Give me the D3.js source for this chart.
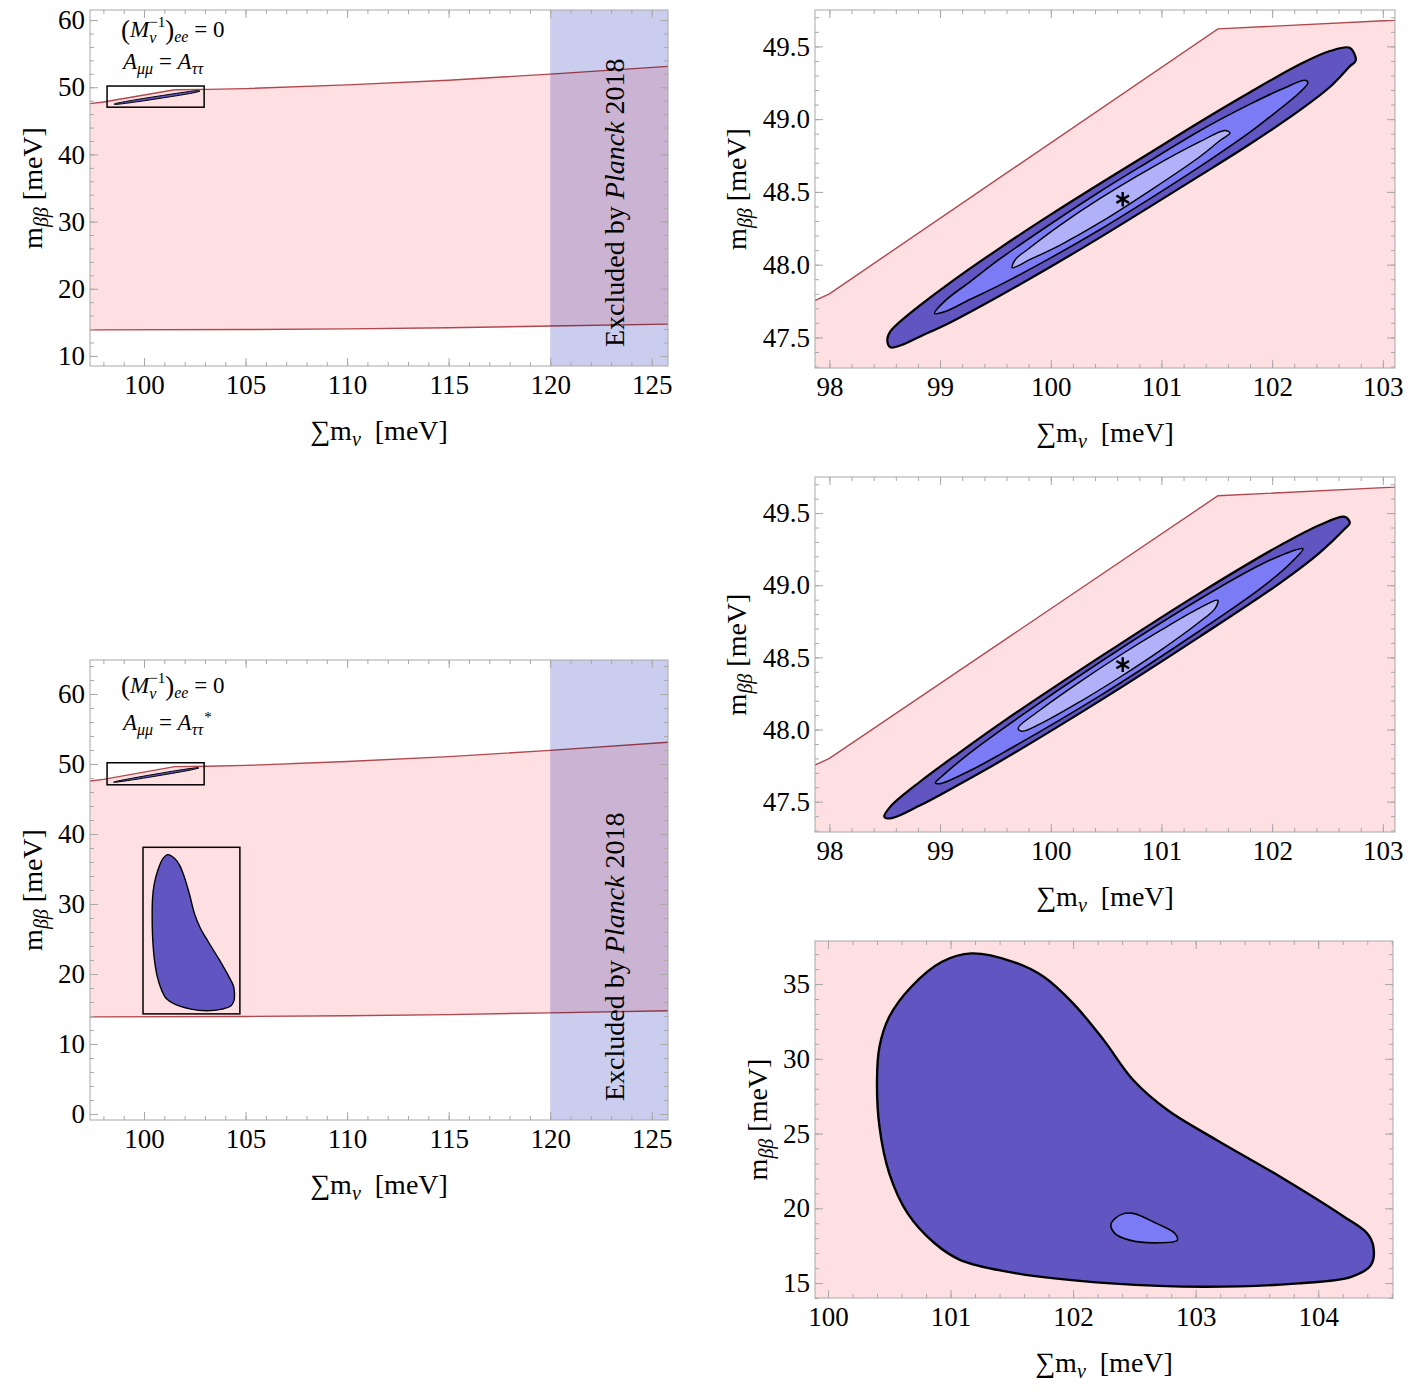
<!DOCTYPE html>
<html>
<head>
<meta charset="utf-8">
<script src="https://cdn.jsdelivr.net/npm/d3@7"></script>
<style>
  body { margin: 0; background: #fff; }
</style>
</head>
<body>
<svg id="chart"></svg>
<script>
const FONT = "'Liberation Serif', 'DejaVu Serif', serif";

// ------------------------------------
// Allowed band in (sum m_nu, m_bb), meV
// ------------------------------------
const bandUpper = [[97.3, 47.55], [98, 47.8], [101.51, 49.62], [103.1, 49.68], [105, 49.8],
  [110, 50.35], [115, 51.05], [120, 51.95], [126, 53.15]];
const bandLower = [[97.3, 13.88], [105, 13.93], [110, 14.03], [115, 14.2], [120, 14.45], [126, 14.75]];
const planckLimit = 120;

// ------------------------------------
// Contours, A_mumu = A_tautau (zoom)
// ------------------------------------
const realOuter = [[98.523, 47.486], [98.551, 47.541], [98.641, 47.61], [98.821, 47.722], [99.092, 47.877],
  [99.543, 48.116], [99.995, 48.342], [100.446, 48.558], [100.897, 48.769], [101.343, 48.979],
  [101.8, 49.185], [102.251, 49.377], [102.522, 49.468], [102.702, 49.49], [102.756, 49.404],
  [102.702, 49.363], [102.522, 49.221], [102.251, 49.062], [101.8, 48.829], [101.343, 48.61],
  [100.897, 48.399], [100.446, 48.188], [99.995, 47.984], [99.543, 47.788], [99.092, 47.603],
  [98.821, 47.507], [98.641, 47.445], [98.551, 47.432]];
const realMid = [[98.95, 47.665], [99.047, 47.753], [99.273, 47.884], [99.543, 48.041], [99.995, 48.278],
  [100.446, 48.503], [100.897, 48.714], [101.343, 48.919], [101.8, 49.103], [102.116, 49.216],
  [102.296, 49.267], [102.323, 49.25], [102.251, 49.185], [101.98, 49.016], [101.8, 48.911],
  [101.343, 48.672], [100.897, 48.454], [100.446, 48.242], [99.995, 48.045], [99.543, 47.861],
  [99.273, 47.762], [99.047, 47.678]];
const realInner = [[99.652, 47.979], [99.679, 48.034], [99.814, 48.118], [100.085, 48.272], [100.446, 48.455],
  [100.897, 48.66], [101.343, 48.843], [101.574, 48.922], [101.619, 48.905], [101.529, 48.853],
  [101.343, 48.74], [100.897, 48.509], [100.446, 48.29], [100.085, 48.135], [99.814, 48.036]];

// ------------------------------------
// Contours, A_mumu = A_tautau* (zoom)
// ------------------------------------
const conjOuter = [[98.496, 47.397], [98.551, 47.466], [98.821, 47.64], [99.182, 47.844], [99.543, 48.041],
  [100.446, 48.503], [101.343, 48.944], [102.071, 49.276], [102.431, 49.418], [102.657, 49.474],
  [102.702, 49.431], [102.657, 49.391], [102.431, 49.226], [102.071, 49.015], [101.343, 48.642],
  [100.446, 48.2], [99.543, 47.78], [99.182, 47.624], [98.821, 47.475], [98.551, 47.384]];
const conjMid = [[98.957, 47.631], [99.002, 47.666], [99.273, 47.84], [99.543, 47.993], [100.446, 48.468],
  [101.343, 48.903], [101.89, 49.14], [102.161, 49.231], [102.278, 49.253], [102.161, 49.149],
  [101.89, 48.975], [101.343, 48.683], [100.446, 48.235], [99.543, 47.828], [99.273, 47.716], [99.002, 47.625]];
const conjInner = [[99.706, 48.009], [99.904, 48.135], [100.266, 48.332], [100.627, 48.515], [100.988, 48.685],
  [101.343, 48.841], [101.508, 48.895], [101.484, 48.838], [101.343, 48.745], [100.988, 48.547],
  [100.627, 48.364], [100.266, 48.194], [99.904, 48.039], [99.742, 47.988]];

// ------------------------------------
// Contours, second solution (zoom)
// ------------------------------------
const wideOuter = [[101.17, 37.05], [101.51, 36.49], [101.76, 35.49], [102.0, 33.71], [102.25, 31.25],
  [102.49, 28.58], [102.77, 26.57], [103.17, 24.57], [103.69, 22.11], [104.21, 19.44], [104.4, 18.32],
  [104.45, 17.43], [104.43, 16.2], [104.27, 15.42], [103.84, 14.98], [103.08, 14.75], [102.31, 14.98],
  [101.54, 15.65], [101.08, 16.54], [100.87, 17.66], [100.65, 19.66], [100.5, 22.34], [100.42, 25.46],
  [100.4, 28.58], [100.42, 30.81], [100.5, 32.81], [100.68, 34.82], [100.93, 36.49]];
const wideInner = [[102.31, 18.99], [102.4, 19.61], [102.49, 19.66], [102.68, 18.99], [102.83, 18.32],
  [102.85, 17.87], [102.68, 17.69], [102.46, 17.87], [102.34, 18.32]];

const bestFit = [[100.65, 48.45]];

// inset boxes drawn in the overview panels
const boxZoom = [[98.18, 47.03], [102.96, 50.18]];
const boxWide = [[99.95, 14.3], [104.72, 38.1]];

// ------------------------------------
// Tick values
// ------------------------------------
const overX = [100, 105, 110, 115, 120, 125];
const overXMinor = d3.range(98, 126, 1);
const overY1 = [10, 20, 30, 40, 50, 60];
const overY1Minor = d3.range(10, 62, 2);
const overY2 = [0, 10, 20, 30, 40, 50, 60];
const overY2Minor = d3.range(0, 65, 2);
const zoomX = [98, 99, 100, 101, 102, 103];
const zoomXMinor = d3.range(490, 516, 1).map(d => d / 5);
const zoomY = [47.5, 48.0, 48.5, 49.0, 49.5];
const zoomYMinor = d3.range(473, 498, 1).map(d => d / 10);
const wideX = [100, 101, 102, 103, 104];
const wideXMinor = d3.range(500, 524, 1).map(d => d / 5);
const wideY = [15, 20, 25, 30, 35];
const wideYMinor = d3.range(14, 38, 1);

const colDark = "#6055c1", colMid = "#7b7bf6", colLight = "#b1b1fa";
const pink = "#ffe0e2", pinkLine = "#b3474f", planckBlue = "#cbcdee";

const svg = d3.select("#chart")
  .attr("width", 1411)
  .attr("height", 1394)
  .attr("font-family", FONT);

let clipId = 0;

function panel(cfg) {
  const g = svg.append("g").attr("transform", `translate(${cfg.left},${cfg.top})`);
  const x = d3.scaleLinear().domain(cfg.xDomain).range([0, cfg.w]);
  const y = d3.scaleLinear().domain(cfg.yDomain).range([cfg.h, 0]);

  const id = "clip" + (clipId++);
  g.append("clipPath").attr("id", id)
    .append("rect").attr("width", cfg.w).attr("height", cfg.h);
  const body = g.append("g").attr("clip-path", `url(#${id})`);

  const line = d3.line().x(d => x(d[0])).y(d => y(d[1]));
  const smooth = d3.line().x(d => x(d[0])).y(d => y(d[1])).curve(d3.curveCatmullRomClosed.alpha(0.5));

  // pink allowed band
  body.append("path")
    .datum(bandUpper.concat(bandLower.slice().reverse()))
    .attr("fill", pink)
    .attr("d", d => line(d) + "Z");
  [bandUpper, bandLower].forEach(b => body.append("path")
    .datum(b).attr("fill", "none").attr("stroke", pinkLine).attr("stroke-width", 1.4).attr("d", line));

  // Planck exclusion
  if (cfg.planck) {
    body.append("rect")
      .attr("x", x(planckLimit)).attr("y", 0)
      .attr("width", cfg.w - x(planckLimit)).attr("height", cfg.h)
      .attr("fill", planckBlue)
      .style("mix-blend-mode", "multiply");
  }

  // contours
  (cfg.contours || []).forEach(c => body.append("path")
    .datum(c.data)
    .attr("fill", c.fill).attr("stroke", "#000").attr("stroke-width", c.sw)
    .attr("d", smooth));

  // inset boxes
  (cfg.boxes || []).forEach(b => body.append("rect")
    .attr("x", x(b[0][0])).attr("y", y(b[1][1]))
    .attr("width", x(b[1][0]) - x(b[0][0])).attr("height", y(b[0][1]) - y(b[1][1]))
    .attr("fill", "none").attr("stroke", "#000").attr("stroke-width", 1.5));

  if (cfg.star) {
    body.selectAll(".star").data(bestFit).join("path")
      .attr("transform", d => `translate(${x(d[0])},${y(d[1])})`)
      .attr("d", d3.symbol(d3.symbolAsterisk, 150))
      .attr("stroke", "#000").attr("stroke-width", 2.4);
  }

  // frame
  g.append("rect").attr("width", cfg.w).attr("height", cfg.h)
    .attr("fill", "none").attr("stroke", "#a8a8a8").attr("stroke-width", 1);

  const addAxis = (gen, tr, vals, size, fmt, pad) => {
    const a = g.append("g").attr("transform", tr)
      .call(gen.tickValues(vals).tickSize(-size).tickPadding(pad || 0).tickFormat(fmt || ""));
    a.select(".domain").remove();
    a.selectAll("line").attr("stroke", "#a8a8a8");
    a.attr("font-family", FONT).attr("font-size", 27);
    a.selectAll("text").attr("fill", "#000");
  };
  addAxis(d3.axisBottom(x), `translate(0,${cfg.h})`, cfg.xMinor, 4);
  addAxis(d3.axisBottom(x), `translate(0,${cfg.h})`, cfg.xMajor, 8, cfg.xFmt, 9);
  addAxis(d3.axisTop(x), "translate(0,0)", cfg.xMinor, 4);
  addAxis(d3.axisTop(x), "translate(0,0)", cfg.xMajor, 8);
  addAxis(d3.axisLeft(y), "translate(0,0)", cfg.yMinor, 4);
  addAxis(d3.axisLeft(y), "translate(0,0)", cfg.yMajor, 8, cfg.yFmt, 5);
  addAxis(d3.axisRight(y), `translate(${cfg.w},0)`, cfg.yMinor, 4);
  addAxis(d3.axisRight(y), `translate(${cfg.w},0)`, cfg.yMajor, 8);

  // axis titles
  const xt = g.append("text").attr("x", cfg.w / 2).attr("y", cfg.h + 74)
    .attr("text-anchor", "middle").attr("font-size", 28);
  xt.append("tspan").text("∑m");
  xt.append("tspan").attr("font-size", 20).attr("font-style", "italic").attr("dy", 6).text("ν");
  xt.append("tspan").attr("dy", -6).text("\u00a0\u00a0[meV]");

  const yt = g.append("text").attr("transform", "rotate(-90)")
    .attr("x", -cfg.h / 2).attr("y", cfg.yTitle)
    .attr("text-anchor", "middle").attr("font-size", 28);
  yt.append("tspan").text("m");
  yt.append("tspan").attr("font-size", 20).attr("font-style", "italic").attr("dy", 6).text("ββ");
  yt.append("tspan").attr("dy", -6).text("\u00a0[meV]");

  return { g, x, y };
}

function annotate(g, y1, y2, conj) {
  const x0 = 31;
  const t1 = g.append("text").attr("x", x0).attr("y", y1).attr("font-size", 23);
  t1.append("tspan").attr("font-size", 27).attr("dy", 2).text("(");
  t1.append("tspan").attr("font-style", "italic").attr("dy", -2).text("M");
  t1.append("tspan").attr("font-size", 16).attr("font-style", "italic").attr("dy", 6).text("ν");
  t1.append("tspan").attr("font-size", 15).attr("dx", -7).attr("dy", -16).text("−1");
  t1.append("tspan").attr("font-size", 27).attr("dy", 12).text(")");
  t1.append("tspan").attr("font-size", 16).attr("font-style", "italic").attr("dy", 3).text("ee");
  t1.append("tspan").attr("dy", -5).text(" = 0");

  const t2 = g.append("text").attr("x", x0 + 2).attr("y", y2).attr("font-size", 23);
  t2.append("tspan").attr("font-style", "italic").text("A");
  t2.append("tspan").attr("font-size", 16).attr("font-style", "italic").attr("dy", 5).text("μμ");
  t2.append("tspan").attr("dy", -5).text(" = ");
  t2.append("tspan").attr("font-style", "italic").text("A");
  t2.append("tspan").attr("font-size", 16).attr("font-style", "italic").attr("dy", 5).text("ττ");
  if (conj) t2.append("tspan").attr("font-size", 15).attr("dx", 1).attr("dy", -13).text("*");
}

function planckLabel(p, cfg) {
  const t = p.g.append("text")
    .attr("transform", `translate(${p.x(planckLimit) + 74},${cfg.h - 19}) rotate(-90)`)
    .attr("text-anchor", "start").attr("font-size", 28);
  t.append("tspan").text("Excluded by ");
  t.append("tspan").attr("font-style", "italic").text("Planck");
  t.append("tspan").text(" 2018");
}

// ------------------------------------
// Panels
// ------------------------------------
const cfgA = {
  left: 90, top: 10, w: 578, h: 356,
  xDomain: [97.34, 125.8], yDomain: [8.5, 61.5],
  xMajor: overX, xMinor: overXMinor, yMajor: overY1, yMinor: overY1Minor,
  xFmt: d3.format("d"), yFmt: d3.format("d"), yTitle: -48,
  planck: true,
  contours: [{ data: realOuter, fill: colDark, sw: 1 }],
  boxes: [boxZoom]
};
const pA = panel(cfgA);
annotate(pA.g, 27, 59, false);
planckLabel(pA, cfgA);

const zoomBase = {
  xDomain: [97.87, 103.11], yDomain: [47.29, 49.75],
  xMajor: zoomX, xMinor: zoomXMinor, yMajor: zoomY, yMinor: zoomYMinor,
  xFmt: d3.format("d"), yFmt: d3.format(".1f"), yTitle: -69, star: true
};
panel(Object.assign({}, zoomBase, {
  left: 815, top: 10, w: 580, h: 358,
  contours: [{ data: realOuter, fill: colDark, sw: 2.2 }, { data: realMid, fill: colMid, sw: 1.6 },
    { data: realInner, fill: colLight, sw: 1.4 }]
}));
panel(Object.assign({}, zoomBase, {
  left: 815, top: 477, w: 580, h: 355,
  contours: [{ data: conjOuter, fill: colDark, sw: 2.2 }, { data: conjMid, fill: colMid, sw: 1.6 },
    { data: conjInner, fill: colLight, sw: 1.4 }]
}));

panel({
  left: 815, top: 941, w: 578, h: 357,
  xDomain: [99.894, 104.61], yDomain: [14.0, 37.88],
  xMajor: wideX, xMinor: wideXMinor, yMajor: wideY, yMinor: wideYMinor,
  xFmt: d3.format("d"), yFmt: d3.format("d"), yTitle: -48,
  contours: [{ data: wideOuter, fill: colDark, sw: 2.4 }, { data: wideInner, fill: colMid, sw: 1.6 }]
});

const cfgE = {
  left: 90, top: 660, w: 578, h: 460,
  xDomain: [97.34, 125.8], yDomain: [-0.86, 64.86],
  xMajor: overX, xMinor: overXMinor, yMajor: overY2, yMinor: overY2Minor,
  xFmt: d3.format("d"), yFmt: d3.format("d"), yTitle: -48,
  planck: true,
  contours: [{ data: conjOuter, fill: colDark, sw: 1 }, { data: wideOuter, fill: colDark, sw: 1.4 }],
  boxes: [boxZoom, boxWide]
};
const pE = panel(cfgE);
annotate(pE.g, 33, 70, true);
planckLabel(pE, cfgE);
</script>
</body>
</html>
